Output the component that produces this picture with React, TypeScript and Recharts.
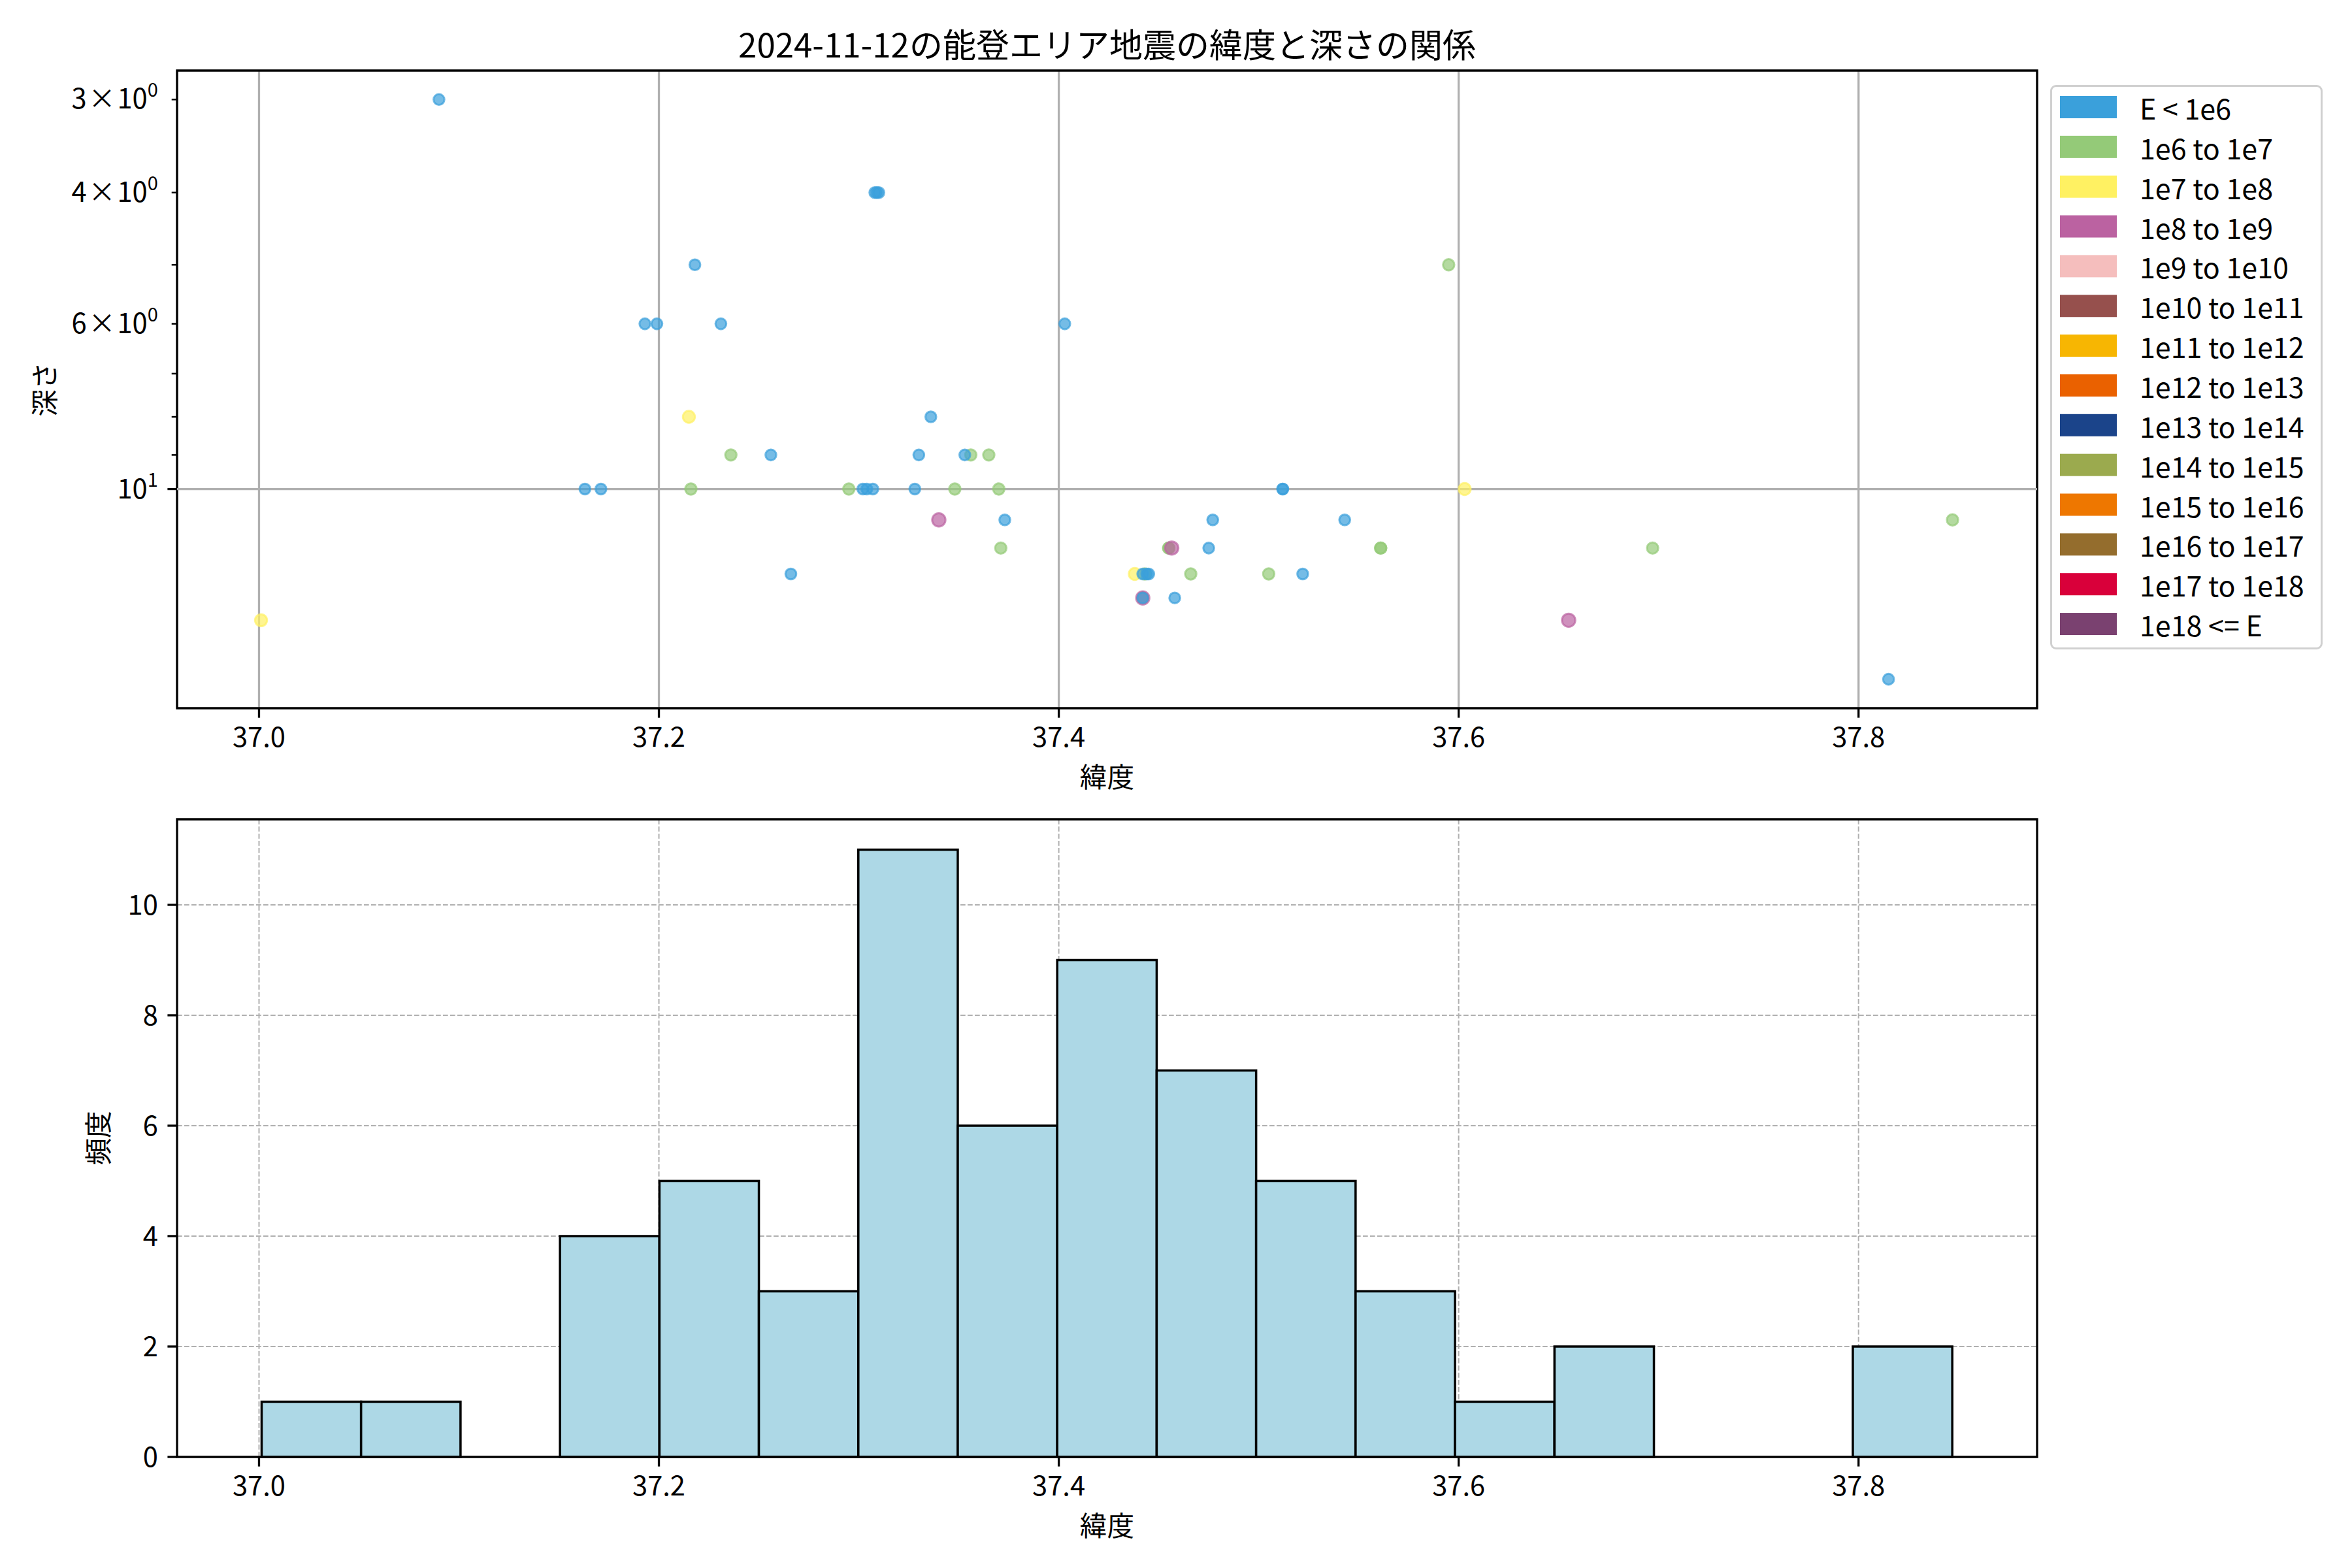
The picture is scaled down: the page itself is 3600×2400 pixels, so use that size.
import React from 'react';
import {
  ScatterChart,
  Scatter,
  ComposedChart,
  XAxis,
  YAxis,
  CartesianGrid,
  ReferenceLine,
  ReferenceArea,
} from 'recharts';

// ---------------- data ----------------
const energyLabels = [
  'E < 1e6', '1e6 to 1e7', '1e7 to 1e8', '1e8 to 1e9', '1e9 to 1e10', '1e10 to 1e11',
  '1e11 to 1e12', '1e12 to 1e13', '1e13 to 1e14', '1e14 to 1e15', '1e15 to 1e16',
  '1e16 to 1e17', '1e17 to 1e18', '1e18 <= E',
];
const energyColors = [
  '#3AA0DB', '#94CA78', '#FFF162', '#BB62A1', '#F5BEBD', '#96504D',
  '#F7B602', '#EA6100', '#1B448A', '#9BAA4E', '#EE7700', '#946D2D', '#D9003A', '#7A4170',
];

// [latitude, depth]
const quakesBelow1e6: [number, number][] = [
  [37.090, 3], [37.308, 4], [37.309, 4], [37.310, 4], [37.218, 5], [37.193, 6], [37.199, 6],
  [37.231, 6], [37.403, 6], [37.336, 8], [37.256, 9], [37.330, 9], [37.353, 9], [37.163, 10],
  [37.171, 10], [37.302, 10], [37.304, 10], [37.307, 10], [37.328, 10], [37.512, 10], [37.512, 10],
  [37.373, 11], [37.477, 11], [37.543, 11], [37.475, 12], [37.266, 13], [37.442, 13], [37.444, 13],
  [37.445, 13], [37.522, 13], [37.442, 14], [37.458, 14], [37.815, 18],
];
const quakes1e6to1e7: [number, number][] = [
  [37.236, 9], [37.216, 10], [37.295, 10], [37.348, 10], [37.356, 9], [37.365, 9], [37.370, 10],
  [37.371, 12], [37.455, 12], [37.455, 12], [37.466, 13], [37.505, 13], [37.561, 12], [37.561, 12],
  [37.595, 5], [37.697, 12], [37.847, 11], [37.443, 13], [37.442, 14],
];
const quakes1e7to1e8: [number, number][] = [
  [37.001, 15], [37.215, 8], [37.438, 13], [37.603, 10],
];
const quakes1e8to1e9: [number, number][] = [
  [37.340, 11], [37.4565, 12], [37.655, 15], [37.442, 14],
];

const latTicks = [37.0, 37.2, 37.4, 37.6, 37.8];
const depthTicks = [3, 4, 5, 6, 7, 8, 9, 10];
const depthLabelled = [3, 4, 6, 10];
const freqTicks = [0, 2, 4, 6, 8, 10];

const histStart = 37.0013;
const histBinWidth = 0.04974;
const histCounts = [1, 1, 0, 4, 5, 3, 11, 6, 9, 7, 5, 3, 1, 2, 0, 0, 2];

// ---------------- styles ----------------
const FONT = '"Noto Sans CJK JP", "Noto Sans", sans-serif';
const FS = 41.67;
const SPINE = 3.3;
const TICK = 14.6;
const MINOR = 8.3;
const PAD = 14.6;
const latDomain: [number, number] = [36.959, 37.8893];
const depthDomain: [number, number] = [2.7432, 19.687];
const freqDomain: [number, number] = [0, 11.55];

const scatterSeries = [
  { data: quakes1e6to1e7, cls: 1, r: 8.7 },
  { data: quakes1e7to1e8, cls: 2, r: 9.2 },
  { data: quakes1e8to1e9, cls: 3, r: 10.2 },
  { data: quakesBelow1e6, cls: 0, r: 8.3 },
];

const makeDot = (color: string, r: number) => (props: any) => {
  const { cx, cy } = props;
  if (cx == null || cy == null) return <g />;
  return (
    <circle
      cx={cx}
      cy={cy}
      r={r}
      fill={color}
      fillOpacity={0.7}
      stroke={color}
      strokeOpacity={0.7}
      strokeWidth={3}
    />
  );
};

const DepthTick = (props: any) => {
  const { x, y, payload } = props;
  const v = payload.value;
  const axisX = x + TICK + PAD;
  const major = v === 10;
  const labelled = depthLabelled.includes(v);
  return (
    <g>
      <line
        x1={axisX - (major ? TICK : MINOR)}
        x2={axisX}
        y1={y}
        y2={y}
        stroke="#000"
        strokeWidth={major ? SPINE : 2.5}
      />
      {labelled && (
        <text x={x} y={y + 14} textAnchor="end" fontSize={FS} fill="#000">
          {major ? (
            <>
              10<tspan dy={-18} fontSize={29}>1</tspan>
            </>
          ) : (
            <>
              {v}
              {'\u200A×\u200A10'}
              <tspan dy={-18} fontSize={29}>0</tspan>
            </>
          )}
        </text>
      )}
    </g>
  );
};

const XLabel = (props: any) => {
  const vb = props.viewBox || {};
  return (
    <text
      x={vb.x + vb.width / 2}
      y={vb.y + 103}
      textAnchor="middle"
      dominantBaseline="central"
      fontSize={FS}
      fill="#000"
    >
      緯度
    </text>
  );
};

const makeYLabel = (text: string, dx: number) => (props: any) => {
  const vb = props.viewBox || {};
  const cx = vb.x + dx;
  const cy = vb.y + vb.height / 2;
  return (
    <text
      x={cx}
      y={cy}
      textAnchor="middle"
      dominantBaseline="central"
      fontSize={FS}
      fill="#000"
      transform={`rotate(-90, ${cx}, ${cy})`}
    >
      {text}
    </text>
  );
};

const Legend14 = () => (
  <div
    style={{
      position: 'absolute',
      left: 3138,
      top: 130,
      width: 417,
      height: 864,
      boxSizing: 'border-box',
      border: '3px solid #d0d0d0',
      borderRadius: 9,
      background: 'rgba(255,255,255,0.8)',
    }}
  >
    <svg width={411} height={858} style={{ position: 'absolute', left: 0, top: 0 }}>
      {energyLabels.map((lab, i) => {
        const cy = 31 + i * 60.85;
        return (
          <g key={lab}>
            <rect x={12} y={cy - 17} width={87} height={34} fill={energyColors[i]} />
            <text x={134} y={cy} dominantBaseline="central" fontSize={43} fill="#000">
              {lab}
            </text>
          </g>
        );
      })}
    </svg>
  </div>
);

export default function App() {
  const histBins = histCounts.map((c, i) => ({ center: histStart + (i + 0.5) * histBinWidth, count: c }));
  return (
    <div
      style={{
        position: 'absolute',
        left: 0,
        top: 0,
        width: 3600,
        height: 2400,
        background: '#fff',
        fontFamily: FONT,
        overflow: 'hidden',
      }}
    >
      <svg width={3600} height={110} style={{ position: 'absolute', left: 0, top: 0 }}>
        <text x={1694.5} y={66} textAnchor="middle" dominantBaseline="central" fontSize={51} fill="#000">
          2024-11-12の能登エリア地震の緯度と深さの関係
        </text>
      </svg>

      {/* bottom histogram */}
      <div style={{ position: 'absolute', left: 0, top: 1200 }}>
        <ComposedChart
          width={3600}
          height={1200}
          data={histBins}
          margin={{ top: 54, right: 482, left: 51, bottom: 110 }}
        >
          <CartesianGrid stroke="#b0b0b0" strokeWidth={2} strokeDasharray="7.7 3.3" />
          <XAxis
            type="number"
            dataKey="center"
            domain={latDomain}
            allowDataOverflow
            ticks={latTicks}
            interval={0}
            tickFormatter={(v: number) => v.toFixed(1)}
            height={60}
            axisLine={false}
            tickLine={{ stroke: '#000', strokeWidth: SPINE }}
            tickSize={TICK}
            tickMargin={PAD}
            tick={{ fontSize: FS, fill: '#000' }}
            label={{ content: XLabel }}
          />
          <YAxis
            type="number"
            domain={freqDomain}
            allowDataOverflow
            ticks={freqTicks}
            interval={0}
            width={220}
            axisLine={false}
            tickLine={{ stroke: '#000', strokeWidth: SPINE }}
            tickSize={TICK}
            tickMargin={PAD}
            tick={{ fontSize: FS, fill: '#000' }}
            label={{ content: makeYLabel('頻度', 97) }}
          />
          {histCounts.map((c, i) => (
            <ReferenceArea
              key={i}
              x1={histStart + i * histBinWidth}
              x2={histStart + (i + 1) * histBinWidth}
              y1={0}
              y2={c}
              fill="#ADD8E6"
              fillOpacity={1}
              stroke="#000"
              strokeWidth={3.5}
              ifOverflow="visible"
            />
          ))}
          <ReferenceArea
            x1={latDomain[0]}
            x2={latDomain[1]}
            y1={freqDomain[0]}
            y2={freqDomain[1]}
            fill="none"
            fillOpacity={0}
            stroke="#000"
            strokeWidth={SPINE}
            ifOverflow="visible"
          />
        </ComposedChart>
      </div>

      {/* top scatter */}
      <div style={{ position: 'absolute', left: 0, top: 0 }}>
        <ScatterChart width={3600} height={1240} margin={{ top: 108, right: 482, left: 51, bottom: 96 }}>
          <CartesianGrid horizontal={false} stroke="#b0b0b0" strokeWidth={SPINE} />
          <ReferenceLine y={10} stroke="#b0b0b0" strokeWidth={SPINE} ifOverflow="visible" />
          <XAxis
            type="number"
            dataKey="lat"
            domain={latDomain}
            allowDataOverflow
            ticks={latTicks}
            interval={0}
            tickFormatter={(v: number) => v.toFixed(1)}
            height={60}
            axisLine={false}
            tickLine={{ stroke: '#000', strokeWidth: SPINE }}
            tickSize={TICK}
            tickMargin={PAD}
            tick={{ fontSize: FS, fill: '#000' }}
            label={{ content: XLabel }}
          />
          <YAxis
            type="number"
            dataKey="depth"
            scale="log"
            domain={depthDomain}
            allowDataOverflow
            reversed
            ticks={depthTicks}
            interval={0}
            width={220}
            axisLine={false}
            tickLine={false}
            tickSize={TICK}
            tickMargin={PAD}
            tick={DepthTick}
            label={{ content: makeYLabel('深さ', 15) }}
          />
          {scatterSeries.map((s) => (
            <Scatter
              key={s.cls}
              name={energyLabels[s.cls]}
              data={s.data.map(([lat, depth]) => ({ lat, depth }))}
              fill={energyColors[s.cls]}
              shape={makeDot(energyColors[s.cls], s.r)}
              isAnimationActive={false}
            />
          ))}
          <ReferenceArea
            x1={latDomain[0]}
            x2={latDomain[1]}
            y1={depthDomain[0]}
            y2={depthDomain[1]}
            fill="none"
            fillOpacity={0}
            stroke="#000"
            strokeWidth={SPINE}
            ifOverflow="visible"
          />
        </ScatterChart>
      </div>

      <Legend14 />
    </div>
  );
}
